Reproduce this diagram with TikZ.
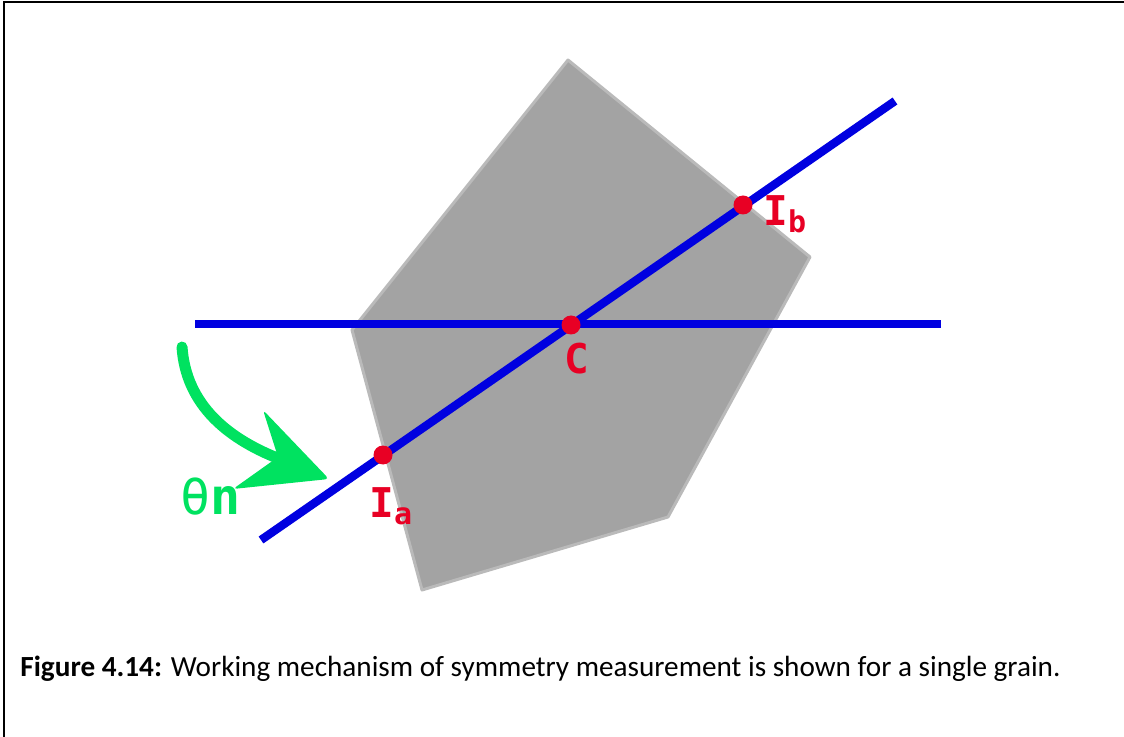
\documentclass[tikz,border=0pt]{standalone}
\usepackage{fontspec}
\setmainfont{Carlito}
\newfontfamily\labelfont{DejaVu Sans Mono}
\usetikzlibrary{positioning}
\definecolor{grain}{RGB}{163,163,163}
\definecolor{lineblue}{RGB}{0,0,224}
\definecolor{ptred}{RGB}{232,0,36}
\definecolor{anglegreen}{RGB}{0,226,96}

\begin{document}
\begin{tikzpicture}[
    x=0.5pt, y=-0.5pt,
    axis/.style={lineblue, line width=4.2pt},
    pt/.style={circle, fill=ptred, inner sep=0pt, minimum size=9.5pt},
    lbl/.style={ptred, inner sep=0pt, font=\labelfont\bfseries\fontsize{20.5}{20}\selectfont},
    sub/.style={font=\labelfont\bfseries\fontsize{15}{15}\selectfont}
  ]
    \useasboundingbox (0,0) rectangle (1124,737);
    \draw[line width=1pt] (4,737) -- (4,2) -- (1124,2);

    % grain
    \draw[grain!75!white, fill=grain, line width=1.5pt, line join=round]
      (568,60) -- (810,257) -- (668,517) -- (422,590) -- (352,330) -- cycle;

    \coordinate (hl) at (195,324);
    \coordinate (hr) at (941,324);
    \coordinate (dl) at (261,540);
    \coordinate (dr) at (895,101);
    \draw[axis] (hl) -- (hr);
    \draw[axis] (dl) -- (dr);

    \node[pt] (C) at (571,325) {};
    \node[pt] (Ia) at (383,455) {};
    \node[pt] (Ib) at (743,205) {};

    \node[lbl, anchor=base] (Clbl) at (577,374) {C};
    \node[lbl, anchor=base west] (Ialbl) at (369,517) {I\raisebox{-3.5pt}{\tikz[baseline]\node[sub,inner sep=0pt,anchor=base]{a};}};
    \node[lbl, anchor=base west] (Iblbl) at (763,226) {I\raisebox{-3.5pt}{\tikz[baseline]\node[sub,inner sep=0pt,anchor=base]{b};}};

    % rotation angle
    \coordinate (astart) at (182,347);
    \coordinate (anotch) at (285,461);
    \draw[anglegreen, line width=5.5pt, line cap=round] (astart) .. controls (186,405) and (228,440) .. (anotch);
    \fill[anglegreen, rounded corners=2pt] (263,410) -- (329,479) -- (233,489) -- (278,457) -- cycle;
    \node[anglegreen, inner sep=0pt, anchor=base west, font=\labelfont\fontsize{25}{25}\selectfont] (theta) at (180,514) {θ{\bfseries n}};

    \node[inner sep=0pt, anchor=base west, font=\fontsize{14.6}{16}\selectfont] (caption) at (20,676)
      {\textbf{Figure 4.14:} Working mechanism of symmetry measurement is shown for a single grain.};
\end{tikzpicture}
\end{document}
